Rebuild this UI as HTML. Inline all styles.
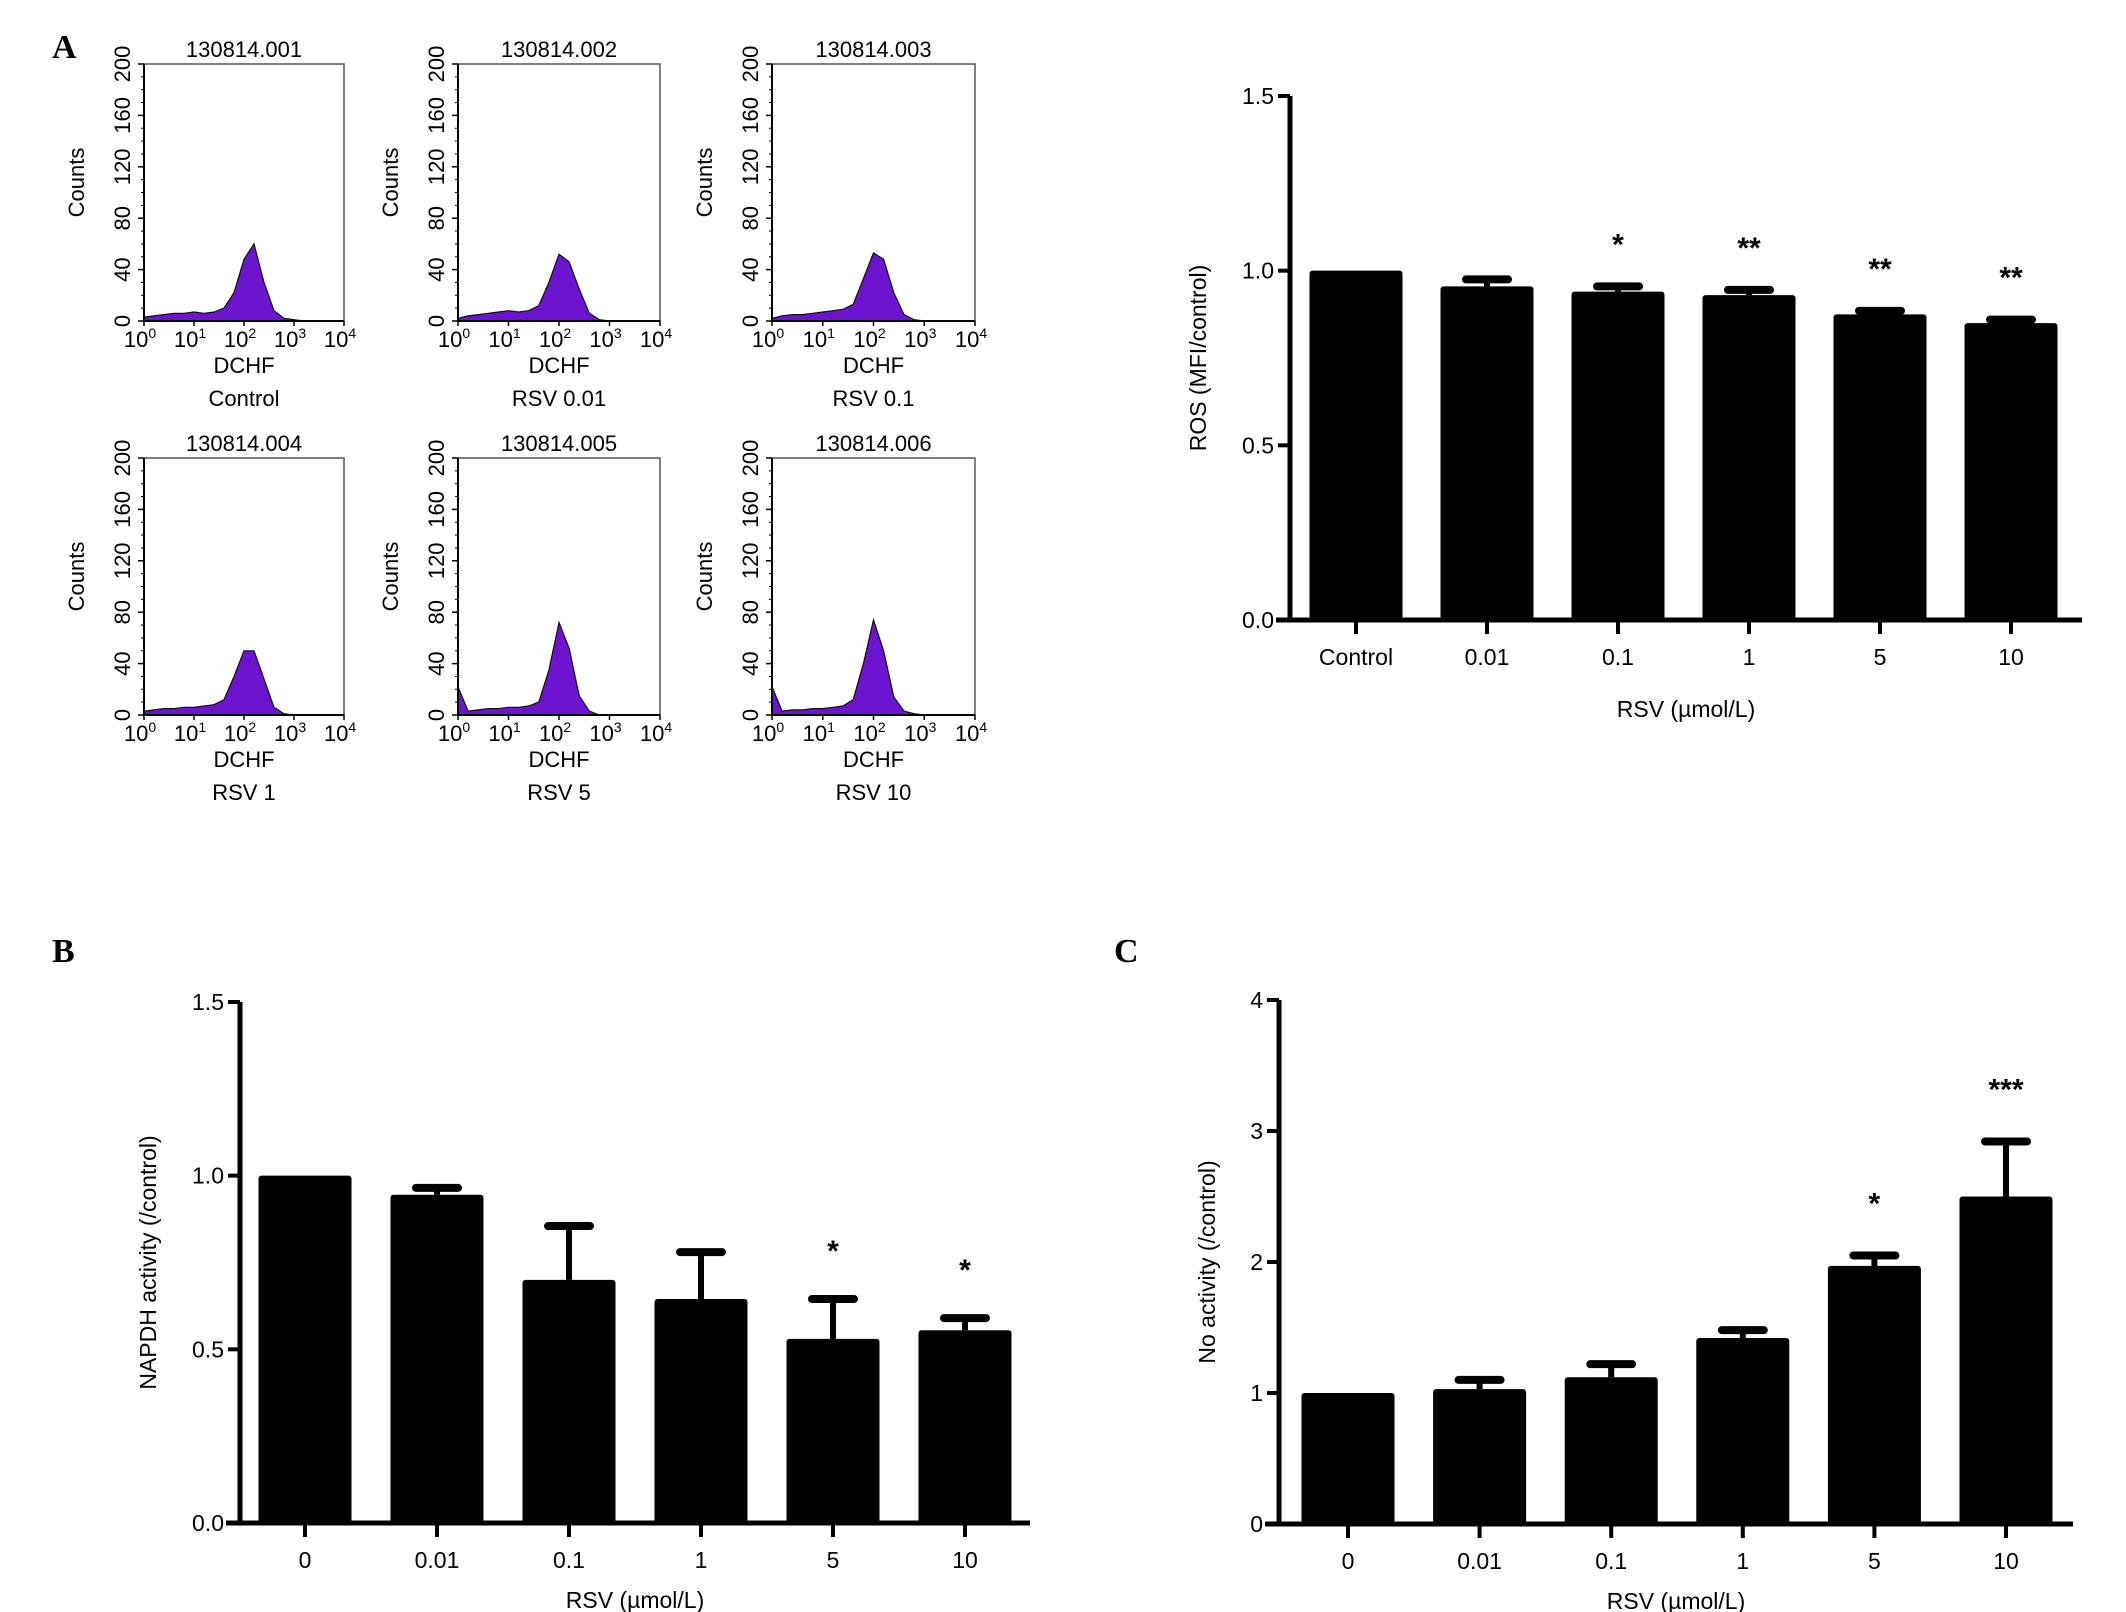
<!DOCTYPE html>
<html><head><meta charset="utf-8"><style>
html,body{margin:0;padding:0;background:#fff}
svg{display:block;font-family:"Liberation Sans",Arial,sans-serif}
</style></head><body>
<svg id="fig" width="2126" height="1612" viewBox="0 0 2126 1612" xmlns="http://www.w3.org/2000/svg">
<text x="52" y="58" font-family="Liberation Serif" font-weight="bold" font-size="34">A</text>
<text x="52" y="962" font-family="Liberation Serif" font-weight="bold" font-size="34">B</text>
<text x="1114" y="962" font-family="Liberation Serif" font-weight="bold" font-size="34">C</text>
</svg>
<script>
// ---- Histogram data (counts at log10 positions 0,0.2,...,4.0) ----
const histTitles = ["130814.001","130814.002","130814.003","130814.004","130814.005","130814.006"];
const histLabels = ["Control","RSV 0.01","RSV 0.1","RSV 1","RSV 5","RSV 10"];
const histCtrl = [3,4,5,6,6,7,6,7,10,22,48,60,30,8,2,1,0,0,0,0,0];
const hist001 = [2,4,5,6,7,8,7,8,12,30,52,46,25,6,1,0,0,0,0,0,0];
const hist01  = [2,4,5,5,6,7,8,9,13,33,53,48,22,5,1,0,0,0,0,0,0];
const hist1   = [3,4,5,5,6,6,7,8,12,30,50,50,28,6,1,0,0,0,0,0,0];
const hist5   = [22,3,4,5,5,6,6,7,10,35,72,52,15,3,0,0,0,0,0,0,0];
const hist10  = [22,3,4,4,5,5,6,7,12,40,74,50,14,3,1,0,0,0,0,0,0];
const histYTicks = [0,40,80,120,160,200];
const histXTicks = [0,1,2,3,4];

// ---- ROS chart ----
const rosCats = ["Control","0.01","0.1","1","5","10"];
const rosVals = [1.0,0.955,0.94,0.93,0.875,0.85];
const rosErr  = [0,0.02,0.015,0.015,0.01,0.01];
const rosStars = ["","","*","**","**","**"];
const rosYTicks = ["0.0","0.5","1.0","1.5"];

// ---- NAPDH chart ----
const bCats = ["0","0.01","0.1","1","5","10"];
const bVals = [1.0,0.945,0.70,0.645,0.53,0.555];
const bErr  = [0,0.02,0.155,0.135,0.115,0.035];
const bStars = ["","","","","*","*"];
const bYTicks = ["0.0","0.5","1.0","1.5"];

// ---- NO chart ----
const cCats = ["0","0.01","0.1","1","5","10"];
const cVals = [1.0,1.03,1.12,1.42,1.97,2.5];
const cErr  = [0,0.07,0.1,0.06,0.08,0.42];
const cStars = ["","","","","*","***"];
const cYTicks = ["0","1","2","3","4"];

const NS="http://www.w3.org/2000/svg";
const svg=document.getElementById('fig');
function mk(tag,attrs,parent){const e=document.createElementNS(NS,tag);for(const k in attrs)e.setAttribute(k,attrs[k]);(parent||svg).appendChild(e);return e;}

// ---------- histograms ----------
const histSeries=[histCtrl,hist001,hist01,hist1,hist5,hist10];
const colL=[144,458,772], colR=[344,660,975], rowT=[64,458], rowB=[321,715];
histSeries.forEach((vals,i)=>{
  const c=i%3, r=Math.floor(i/3);
  const L=colL[c],R=colR[c],T=rowT[r],B=rowB[r];
  const g=mk('g',{});
  
  
  const xs=v=>L+(v/4)*(R-L);
  const ys=v=>B-(v/200)*(B-T);
  let d='M'+xs(0)+','+B;
  vals.forEach((v,k)=>{d+=' L'+xs(k*0.2).toFixed(1)+','+ys(v).toFixed(1);});
  d+=' L'+xs(4)+','+B+' Z';
  const p=mk('path',{d:d,fill:'#6c14d0',stroke:'#111','stroke-width':1.2},g);
  
  
  mk('rect',{x:L,y:T,width:R-L,height:B-T,fill:'none',stroke:'#555','stroke-width':1.5},g);
  mk('line',{x1:L,y1:T,x2:L,y2:B,stroke:'#000','stroke-width':2},g);
  mk('line',{x1:L,y1:B,x2:R,y2:B,stroke:'#000','stroke-width':2},g);
  histYTicks.forEach(t=>{
    const y=ys(t);
    mk('line',{x1:L-6,y1:y,x2:L,y2:y,stroke:'#000','stroke-width':1.5},g);
    const tx=mk('text',{x:L-14,y:y,'font-size':22,'text-anchor':'middle',transform:`rotate(-90 ${L-14} ${y})`},g);
    tx.textContent=t;
    
    
  });
  for(let t=0;t<=200;t+=10){mk('line',{x1:L-3,y1:ys(t),x2:L,y2:ys(t),stroke:'#000','stroke-width':1},g);}
  histXTicks.forEach(t=>{
    const x=xs(t);
    mk('line',{x1:x,y1:B,x2:x,y2:B+5,stroke:'#000','stroke-width':1.5},g);
    const tx=mk('text',{x:x-4,y:B+26,'font-size':22,'text-anchor':'middle'},g);
    tx.innerHTML='10<tspan dy="-9" font-size="14">'+t+'</tspan>';
    
    
  });
  const title=mk('text',{x:(L+R)/2,y:T-7,'font-size':22,'text-anchor':'middle'},g);
  title.textContent=histTitles[i];
  
  
  const yl=mk('text',{x:L-60,y:(T+B)/2-10,'font-size':22,'text-anchor':'middle',transform:`rotate(-90 ${L-60} ${(T+B)/2-10})`},g);
  yl.textContent='Counts';
  
  
  const xl=mk('text',{x:(L+R)/2,y:B+52,'font-size':22,'text-anchor':'middle'},g);
  xl.textContent='DCHF';
  
  
  const cl=mk('text',{x:(L+R)/2,y:B+85,'font-size':22,'text-anchor':'middle'},g);
  cl.textContent=histLabels[i];
  
  
});

// ---------- bar charts ----------
function barChart(o){
  const g=mk('g',{});
  
  
  const ys=v=>o.y0-(v/o.max)*(o.y0-o.yTop);
  const xc=i=>o.x0+i*o.step;
  const bw=93;
  o.vals.forEach((v,i)=>{
    const x=xc(i);
    if(o.err[i]>0){
      const ye=ys(v+o.err[i]);
      const el=mk('line',{x1:x,y1:ys(v),x2:x,y2:ye,stroke:'#000','stroke-width':6},g);
      
      
      const cap=mk('line',{x1:x-21,y1:ye,x2:x+21,y2:ye,stroke:'#000','stroke-width':8,'stroke-linecap':'round'},g);
      
      
    }
    const b=mk('rect',{x:x-bw/2,y:ys(v),width:bw,height:o.y0-ys(v),rx:3,fill:'#000'},g);
    
    
    if(o.stars[i]){
      const s=mk('text',{x:x,y:ys(v+o.err[i])-o.starGap,'font-size':30,'font-weight':'bold','text-anchor':'middle'},g);
      s.textContent=o.stars[i];
      
      
    }
    mk('line',{x1:x,y1:o.y0,x2:x,y2:o.y0+14,stroke:'#000','stroke-width':4},g);
    const t=mk('text',{x:x,y:o.y0+45,'font-size':23,'text-anchor':'middle'},g);
    t.textContent=o.cats[i];
    
    
  });
  mk('line',{x1:o.axisX,y1:o.yTop,x2:o.axisX,y2:o.y0+2,stroke:'#000','stroke-width':5},g);
  mk('line',{x1:o.axisX-14,y1:o.y0,x2:o.xEnd,y2:o.y0,stroke:'#000','stroke-width':5},g);
  o.yticks.forEach(t=>{
    const v=parseFloat(t), y=ys(v);
    mk('line',{x1:o.axisX-12,y1:y,x2:o.axisX,y2:y,stroke:'#000','stroke-width':4},g);
    const tx=mk('text',{x:o.axisX-16,y:y+8,'font-size':23,'text-anchor':'end'},g);
    tx.textContent=t;
    
    
  });
  const xt=mk('text',{x:(o.axisX+o.xEnd)/2,y:o.y0+o.xTitleDy,'font-size':23,'text-anchor':'middle'},g);
  xt.textContent='RSV (\u00b5mol/L)';
  
  
  const yx=o.yTitleX, yy=(o.yTop+o.y0)/2;
  const yt=mk('text',{x:yx,y:yy,'font-size':23,'text-anchor':'middle',transform:`rotate(-90 ${yx} ${yy})`},g);
  yt.textContent=o.ytitle;
  
  
}
barChart({name:'ros-chart',cats:rosCats,vals:rosVals,err:rosErr,stars:rosStars,yticks:rosYTicks,max:1.5,
  axisX:1290,y0:620,yTop:96,xEnd:2082,x0:1356,step:131,yTitleX:1206,ytitle:'ROS (MFI/control)',starGap:32,xTitleDy:97});
barChart({name:'napdh-chart',cats:bCats,vals:bVals,err:bErr,stars:bStars,yticks:bYTicks,max:1.5,
  axisX:240,y0:1523,yTop:1002,xEnd:1030,x0:305,step:132,yTitleX:156,ytitle:'NAPDH activity (/control)',starGap:38,xTitleDy:85});
barChart({name:'no-chart',cats:cCats,vals:cVals,err:cErr,stars:cStars,yticks:cYTicks,max:4,
  axisX:1279,y0:1524,yTop:1000,xEnd:2073,x0:1348,step:131.6,yTitleX:1215,ytitle:'No activity (/control)',starGap:42,xTitleDy:85});
</script>
</body></html>
